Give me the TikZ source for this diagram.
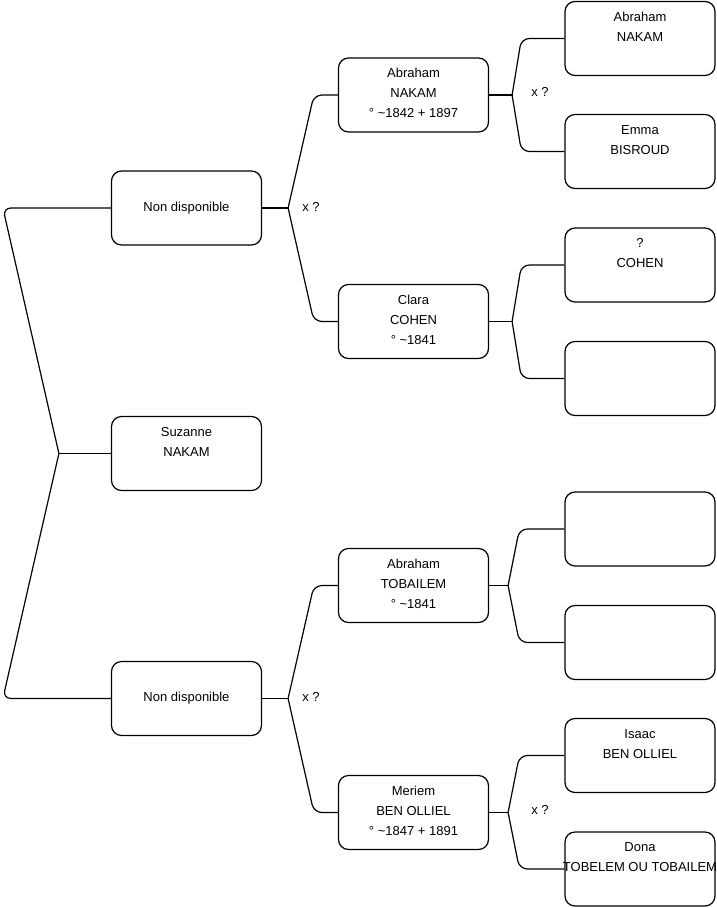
\documentclass[tikz,border=0pt]{standalone}
\usepackage{fontspec}
\setmainfont{Liberation Sans}
\newcommand{\who}[1]{\parbox[c][74pt][t]{150pt}{\centering\rule{0pt}{19.5pt}#1}}
\begin{document}
\begin{tikzpicture}[x=1pt,y=-1pt,line width=1.2pt,
    person/.style={draw,rectangle,rounded corners=10pt,minimum width=150pt,minimum height=74pt,inner sep=0pt,font=\fontsize{13}{20}\selectfont},
    link/.style={rounded corners=8pt},
    note/.style={font=\fontsize{13}{20}\selectfont,inner sep=0pt}]
    \useasboundingbox (0,0) rectangle (716,908);
    % generation 0 and 1
    \node[person] (p0) at (186.5,453.5) {\who{Suzanne\\NAKAM}};
    \node[person] (f) at (186.5,208) {Non disponible};
    \node[person] (m) at (186.5,698.5) {Non disponible};
    % generation 2
    \node[person] (ff) at (413.5,95) {\who{Abraham\\NAKAM\\° \textasciitilde1842 + 1897}};
    \node[person] (fm) at (413.5,321.5) {\who{Clara\\COHEN\\° \textasciitilde1841}};
    \node[person] (mf) at (413.5,585.5) {\who{Abraham\\TOBAILEM\\° \textasciitilde1841}};
    \node[person] (mm) at (413.5,812.5) {\who{Meriem\\BEN OLLIEL\\° \textasciitilde1847 + 1891}};
    % generation 3
    \node[person] (fff) at (640,38.5) {\who{Abraham\\NAKAM}};
    \node[person] (ffm) at (640,151.5) {\who{Emma\\BISROUD}};
    \node[person] (fmf) at (640,265) {\who{?\\COHEN}};
    \node[person] (fmm) at (640,378.5) {};
    \node[person] (mff) at (640,529) {};
    \node[person] (mfm) at (640,642.5) {};
    \node[person] (mmf) at (640,755.5) {\who{Isaac\\BEN OLLIEL}};
    \node[person] (mmm) at (640,869) {\who{Dona\\\makebox[150pt]{TOBELEM OU TOBAILEM}}};
    % links
    \draw (p0.west) -- ++(-52,0) coordinate (j0);
    \draw[link] (j0) -- ([xshift=-108pt]f.west) -- (f.west);
    \draw[link] (j0) -- ([xshift=-108pt]m.west) -- (m.west);
    \draw (f.east) -- ++(26,0) coordinate (jf);
    \draw[link] (jf) -- ([xshift=-24pt]ff.west) -- (ff.west);
    \draw[link] (jf) -- ([xshift=-24pt]fm.west) -- (fm.west);
    \draw (m.east) -- ++(26,0) coordinate (jm);
    \draw[link] (jm) -- ([xshift=-24pt]mf.west) -- (mf.west);
    \draw[link] (jm) -- ([xshift=-24pt]mm.west) -- (mm.west);
    \draw (ff.east) -- ++(23,0) coordinate (jff);
    \draw[link] (jff) -- ([xshift=-43pt]fff.west) -- (fff.west);
    \draw[link] (jff) -- ([xshift=-43pt]ffm.west) -- (ffm.west);
    \draw (fm.east) -- ++(23,0) coordinate (jfm);
    \draw[link] (jfm) -- ([xshift=-43pt]fmf.west) -- (fmf.west);
    \draw[link] (jfm) -- ([xshift=-43pt]fmm.west) -- (fmm.west);
    \draw (mf.east) -- ++(19,0) coordinate (jmf);
    \draw[link] (jmf) -- ([xshift=-45pt]mff.west) -- (mff.west);
    \draw[link] (jmf) -- ([xshift=-45pt]mfm.west) -- (mfm.west);
    \draw (mm.east) -- ++(19,0) coordinate (jmm);
    \draw[link] (jmm) -- ([xshift=-45pt]mmf.west) -- (mmf.west);
    \draw[link] (jmm) -- ([xshift=-45pt]mmm.west) -- (mmm.west);
    % unions
    \node[note] (xf) at (311,207) {x ?};
    \node[note] (xm) at (311,697) {x ?};
    \node[note] (xff) at (540,92) {x ?};
    \node[note] (xmm) at (540,810) {x ?};
\end{tikzpicture}
\end{document}
